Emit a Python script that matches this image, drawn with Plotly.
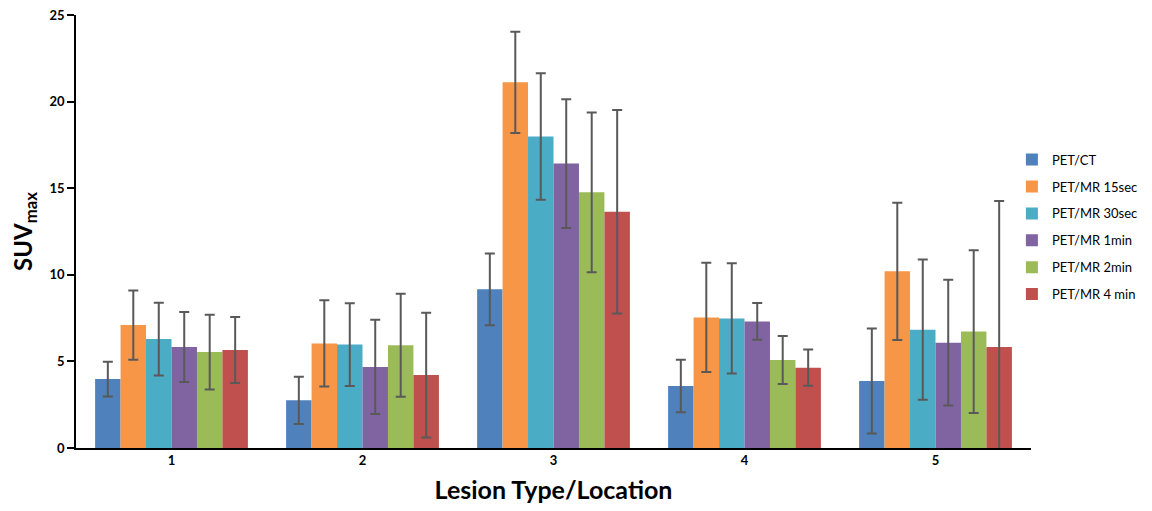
import plotly.graph_objects as go

categories = ["1", "2", "3", "4", "5"]
series_names = ["PET/CT", "PET/MR 15sec", "PET/MR 30sec", "PET/MR 1min", "PET/MR 2min", "PET/MR 4 min"]
colors = ["#4F81BD", "#F79646", "#4BACC6", "#8064A2", "#9BBB59", "#C0504D"]

pet_ct = [3.98, 2.75, 9.16, 3.58, 3.87]
mr_15s = [7.10, 6.04, 21.11, 7.54, 10.20]
mr_30s = [6.29, 5.97, 17.98, 7.48, 6.83]
mr_1m = [5.83, 4.68, 16.42, 7.31, 6.08]
mr_2m = [5.54, 5.93, 14.76, 5.08, 6.72]
mr_4m = [5.66, 4.21, 13.64, 4.64, 5.83]

err_pet_ct = [1.00, 1.36, 2.07, 1.51, 3.03]
err_15s = [2.00, 2.49, 2.93, 3.15, 3.96]
err_30s = [2.10, 2.39, 3.65, 3.18, 4.05]
err_1m = [2.02, 2.72, 3.72, 1.06, 3.63]
err_2m = [2.16, 2.97, 4.61, 1.39, 4.70]
err_4m = [1.90, 3.60, 5.87, 1.04, 8.43]

values = [pet_ct, mr_15s, mr_30s, mr_1m, mr_2m, mr_4m]
errors = [err_pet_ct, err_15s, err_30s, err_1m, err_2m, err_4m]

FONT = "Lato"

fig = go.Figure()
for name, vals, errs, col in zip(series_names, values, errors, colors):
    fig.add_trace(go.Bar(
        x=categories, y=vals, name=name, legendgroup=name,
        marker=dict(color=col, line=dict(width=0)),
        error_y=dict(type="data", array=errs, visible=True,
                     color="#595959", thickness=2, width=5),
    ))

fig.update_layout(
    width=1144, height=503,
    paper_bgcolor="white", plot_bgcolor="white",
    margin=dict(l=68, r=121, t=7, b=63),
    barmode="group", bargap=0.2, bargroupgap=0,
    font=dict(family=FONT, color="black"),
    showlegend=True,
    legend=dict(x=0.98, xanchor="left", y=0.51, yanchor="middle",
                font=dict(family=FONT, size=13, color="black"),
                tracegroupgap=7, itemwidth=30, bgcolor="rgba(0,0,0,0)"),
    xaxis=dict(
        showline=True, linecolor="black", linewidth=1.5,
        ticks="", showgrid=False, automargin="bottom",
        tickfont=dict(family=FONT, size=13, color="black", weight="bold"),
        title=dict(text="<b>Lesion Type/Location</b>", font=dict(family=FONT, size=25), standoff=14),
    ),
    yaxis=dict(
        range=[0, 25], tickvals=[0, 5, 10, 15, 20, 25],
        showline=True, linecolor="black", linewidth=1.5,
        ticks="outside", ticklen=7, tickcolor="black", tickwidth=1.5,
        showgrid=False, zeroline=False, ticklabeloverflow="allow",
        automargin="left",
        tickfont=dict(family=FONT, size=13, color="black", weight="bold"),
        title=dict(text="<b>SUV<sub>max</sub></b>", font=dict(family=FONT, size=24), standoff=12),
    ),
)

fig.write_html("out.html")
